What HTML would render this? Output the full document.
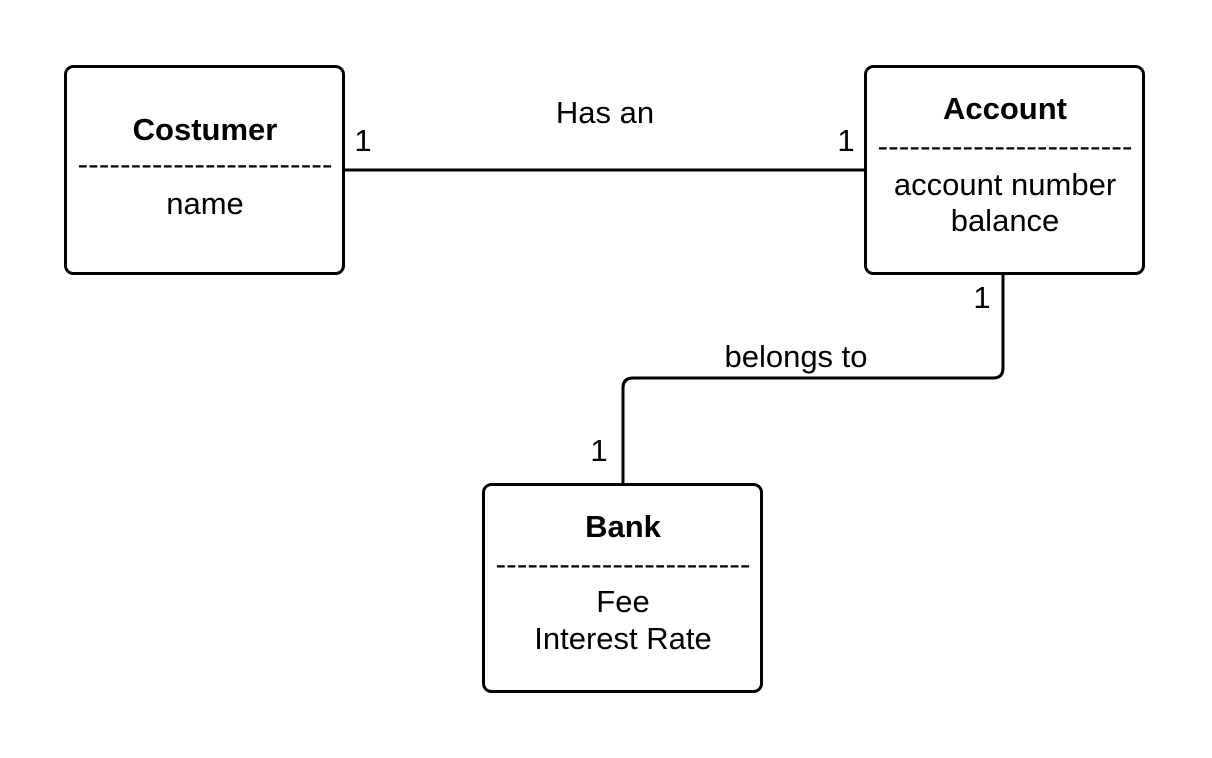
<!DOCTYPE html>
<html><head><meta charset="utf-8"><style>
html,body{margin:0;padding:0;background:#fff;}
svg{display:block;}
text{font-family:"Liberation Sans",Arial,sans-serif;fill:#000;}
</style></head><body>
<svg width="1212" height="758" viewBox="0 0 1212 758" xmlns="http://www.w3.org/2000/svg">
<g fill="#fff" stroke="#000" stroke-width="3">
<rect x="65.5" y="66.5" width="278" height="207" rx="8"/>
<rect x="865.5" y="66.5" width="278" height="207" rx="8"/>
<rect x="483.5" y="484.5" width="278" height="207" rx="8"/>
</g>
<g fill="none" stroke="#000" stroke-width="3">
<line x1="344" y1="170" x2="865" y2="170"/>
<path d="M1003 274 V368 Q1003 378 993 378 H633 Q623 378 623 388 V484"/>
</g>
<g font-size="31" text-anchor="middle">
<text x="205" y="140" font-weight="bold">Costumer</text>
<text x="205" y="174" textLength="255" lengthAdjust="spacingAndGlyphs" font-size="29">------------------------</text>
<text x="205" y="214">name</text>
<text x="1005" y="119" font-weight="bold">Account</text>
<text x="1005" y="156" textLength="255" lengthAdjust="spacingAndGlyphs" font-size="29">------------------------</text>
<text x="1005" y="195">account number</text>
<text x="1005" y="231">balance</text>
<text x="623" y="537" font-weight="bold">Bank</text>
<text x="623" y="574" textLength="255" lengthAdjust="spacingAndGlyphs" font-size="29">------------------------</text>
<text x="623" y="612">Fee</text>
<text x="623" y="649">Interest Rate</text>
<text x="605" y="123">Has an</text>
<text x="796" y="367">belongs to</text>
<text x="363" y="151">1</text>
<text x="846" y="151">1</text>
<text x="982" y="308">1</text>
<text x="599" y="461">1</text>
</g>
</svg>
</body></html>
